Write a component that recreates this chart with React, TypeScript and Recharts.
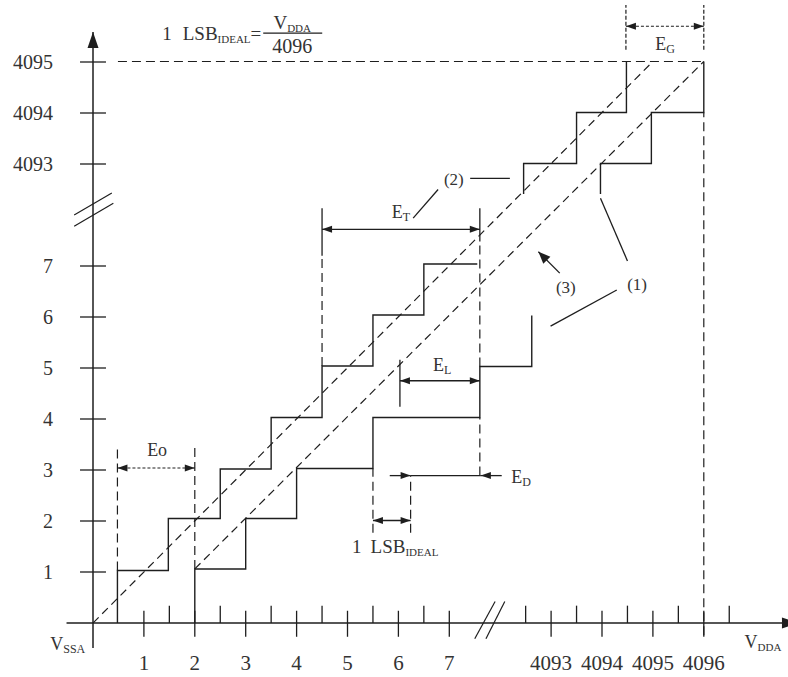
import React from 'react';
import { ComposedChart, Line, XAxis, YAxis, ReferenceLine, ReferenceDot } from 'recharts';

const FONT = 'Liberation Serif, Times New Roman, DejaVu Serif, Noto Serif, serif';
const INK = '#1e1e1e';
const TXT = '#333';

// drawing units: one unit per code step, axes broken between 7 and 4093
const xTickPos = [1, 2, 3, 4, 5, 6, 7, 9, 10, 11, 12];
const xTickLabels = ['1', '2', '3', '4', '5', '6', '7', '4093', '4094', '4095', '4096'];
const xHalfTicks = [1.5, 2.5, 3.5, 4.5, 5.5, 6.5, 8.5, 9.5, 10.5, 11.5, 12.5];
const yTickPos = [1, 2, 3, 4, 5, 6, 7, 9, 10, 11];
const yTickLabels = ['1', '2', '3', '4', '5', '6', '7', '4093', '4094', '4095'];

// (2) ideal transfer curve, step corners
const idealLowX = [0.48, 0.48, 1.48, 2.5, 3.5, 4.5, 5.5, 6.5, 7.55];
const idealLowY = [0, 1.03, 2.05, 3.02, 4.03, 5.04, 6.04, 7.04, 7.04];
const idealHighX = [8.46, 8.46, 9.5, 10.48];
const idealHighY = [8.41, 9.01, 10.01, 11.01];

// (1) actual transfer curve
const actualLowX = [2, 2, 3, 4, 5.5, 7.6, 8.62];
const actualLowY = [0, 1.06, 2.05, 3.03, 4.03, 5.03, 6.03];
const actualHighX = [9.97, 9.97, 10.97, 12];
const actualHighY = [8.41, 9.01, 10.01, 11.01];

// dashed straight lines
const idealLineX = [0, 11];
const idealLineY = [0, 11.01];
const endPointX = [2, 12];
const endPointY = [1.06, 11.01];

// guide segments [x1, y1, x2, y2]
const dashedGuides = [
  [0.48, 1.03, 0.48, 3.46],
  [2, 1.06, 2, 3.46],
  [4.5, 5.04, 4.5, 7.2],
  [7.6, 2.89, 7.6, 4.03],
  [7.6, 5.03, 7.6, 7.48],
  [5.5, 1.77, 5.5, 3.03],
  [6.24, 1.77, 6.24, 2.89],
  [12, -0.24, 12, 10.01],
  [0.49, 11.01, 12, 11.01],
];
const dottedGuides = [
  [10.47, 11.24, 10.47, 12.12],
  [12, 11.24, 12, 12.12],
];
const solidGuides = [
  [4.5, 7.2, 4.5, 8.13],
  [7.6, 7.48, 7.6, 8.13],
  [6.03, 4.24, 6.03, 5.16],
  [6.24, 2.89, 7.62, 2.89],
  [6.29, 7.94, 6.78, 8.5],
  [7.41, 8.72, 8.19, 8.72],
  [9.97, 8.33, 10.5, 7.1],
  [10.29, 6.53, 8.99, 5.82],
];
const breakMarks = [
  [-0.37, 8.0, 0.37, 8.43],
  [-0.37, 7.78, 0.4, 8.23],
  [7.5, -0.31, 7.9, 0.42],
  [7.72, -0.31, 8.09, 0.42],
];
// dimension arrows, heads on both ends
const solidDims = [
  [4.5, 7.72, 7.6, 7.72],
  [6.03, 4.75, 7.6, 4.75],
  [5.5, 2.01, 6.24, 2.01],
];
const dottedDims = [
  [0.48, 3.04, 2, 3.04],
  [10.47, 11.7, 12, 11.7],
];
// single-headed arrows, head at second point
const singleArrows = [
  [5.83, 2.89, 6.24, 2.89],
  [8.03, 2.89, 7.62, 2.89],
  [9.17, 6.86, 8.75, 7.28],
];

type SegOpts = { dash?: string; w?: number; head?: 'start' | 'end' | 'both'; hl?: number; hw?: number };

const headPts = (tx: number, ty: number, fx: number, fy: number, hl: number, hw: number) => {
  const dx = tx - fx;
  const dy = ty - fy;
  const len = Math.hypot(dx, dy) || 1;
  const ux = dx / len;
  const uy = dy / len;
  const bx = tx - ux * hl;
  const by = ty - uy * hl;
  return `${tx},${ty} ${bx - uy * hw},${by + ux * hw} ${bx + uy * hw},${by - ux * hw}`;
};

const segShape = (o: SegOpts) => (p: any) => {
  const { x1, y1, x2, y2 } = p;
  const hl = o.hl ?? 10;
  const hw = o.hw ?? 3.5;
  return (
    <g>
      <line x1={x1} y1={y1} x2={x2} y2={y2} stroke={INK} strokeWidth={o.w ?? 1.3} strokeDasharray={o.dash} />
      {(o.head === 'end' || o.head === 'both') && <polygon points={headPts(x2, y2, x1, y1, hl, hw)} fill={INK} />}
      {(o.head === 'start' || o.head === 'both') && <polygon points={headPts(x1, y1, x2, y2, hl, hw)} fill={INK} />}
    </g>
  );
};

const seg = (key: string, s: number[], o: SegOpts = {}) => (
  <ReferenceLine
    key={key}
    segment={[{ x: s[0], y: s[1] }, { x: s[2], y: s[3] }]}
    ifOverflow="visible"
    shape={segShape(o)}
  />
);

const pts = (xs: number[], ys: number[]) => xs.map((x, i) => ({ x, y: ys[i] }));

const SubText = ({ x, y, main, sub, size = 18, subSize = 12, anchor = 'middle' }: any) => (
  <text x={x} y={y} fontSize={size} textAnchor={anchor} fill={TXT} style={{ fontFamily: FONT }}>
    {main}
    {sub && <tspan fontSize={subSize} dy={3}>{sub}</tspan>}
  </text>
);

const label = (key: string, x: number, y: number, draw: (cx: number, cy: number) => React.ReactElement) => (
  <ReferenceDot key={key} x={x} y={y} r={0} ifOverflow="visible" shape={(p: any) => draw(p.cx, p.cy)} />
);

const XTick = (p: any) => (
  <text x={p.x} y={p.y + 47} textAnchor="middle" fontSize={21} fill={TXT} style={{ fontFamily: FONT }}>
    {xTickLabels[xTickPos.indexOf(p.payload.value)]}
  </text>
);

const YTick = (p: any) => (
  <text x={p.x - 40} y={p.y + 7} textAnchor="end" fontSize={20} fill={TXT} style={{ fontFamily: FONT }}>
    {yTickLabels[yTickPos.indexOf(p.payload.value)]}
  </text>
);

export default function App() {
  const stairs = [
    pts(idealLowX, idealLowY),
    pts(idealHighX, idealHighY),
    pts(actualLowX, actualLowY),
    pts(actualHighX, actualHighY),
  ];
  const diagonals = [pts(idealLineX, idealLineY), pts(endPointX, endPointY)];

  const refs = [
    seg('yax', [0, -0.49, 0, 11.59], { w: 1.5, head: 'end', hl: 16, hw: 5.5 }),
    seg('xax', [-0.52, 0, 13.85, 0], { w: 1.5, head: 'end', hl: 16, hw: 5.5 }),
    ...xTickPos.map((x, i) => seg(`xt${i}`, [x, -0.27, x, 0.24])),
    ...xHalfTicks.map((x, i) => seg(`xh${i}`, [x, 0, x, 0.34])),
    ...yTickPos.map((y, i) => seg(`yt${i}`, [-0.255, y, 0.255, y])),
    ...breakMarks.map((s, i) => seg(`br${i}`, s, { w: 1.2 })),
    ...dashedGuides.map((s, i) => seg(`dg${i}`, s, { dash: '9 5', w: 1.2 })),
    ...dottedGuides.map((s, i) => seg(`og${i}`, s, { dash: '4 2', w: 1.2 })),
    ...solidGuides.map((s, i) => seg(`sg${i}`, s)),
    ...solidDims.map((s, i) => seg(`sd${i}`, s, { head: 'both' })),
    ...dottedDims.map((s, i) => seg(`od${i}`, s, { head: 'both', dash: '3 2', w: 1.1 })),
    ...singleArrows.map((s, i) =>
      seg(`sa${i}`, s, i === 2 ? { head: 'end', hl: 12, hw: 5 } : { head: 'end' })
    ),
  ];

  const labels = [
    label('title', 1.36, 11.43, (cx, cy) => (
      <g>
        <text x={cx} y={cy} fontSize={19} fill={TXT} style={{ fontFamily: FONT }}>
          1<tspan dx={11}>LSB</tspan>
          <tspan fontSize={11} dy={3}>IDEAL</tspan>
          <tspan fontSize={19} dy={-3}>=</tspan>
        </text>
        <line x1={cx + 101} y1={cy - 7} x2={cx + 160} y2={cy - 7} stroke={INK} strokeWidth={1.3} />
        <SubText x={cx + 130} y={cy - 11} main="V" sub="DDA" size={19} subSize={11} />
        <text x={cx + 130} y={cy + 13} fontSize={20} textAnchor="middle" fill={TXT} style={{ fontFamily: FONT }}>
          4096
        </text>
      </g>
    )),
    label('eo', 1.26, 3.27, (cx, cy) => <SubText x={cx} y={cy} main="Eo" />),
    label('et', 6.05, 7.94, (cx, cy) => <SubText x={cx} y={cy} main="E" sub="T" />),
    label('el', 6.86, 4.94, (cx, cy) => <SubText x={cx} y={cy} main="E" sub="L" />),
    label('ed', 8.41, 2.75, (cx, cy) => <SubText x={cx} y={cy} main="E" sub="D" />),
    label('eg', 11.24, 11.24, (cx, cy) => <SubText x={cx} y={cy} main="E" sub="G" />),
    label('c2', 7.09, 8.59, (cx, cy) => <SubText x={cx} y={cy} main="(2)" size={17} />),
    label('c3', 9.29, 6.47, (cx, cy) => <SubText x={cx} y={cy} main="(3)" size={17} />),
    label('c1', 10.69, 6.53, (cx, cy) => <SubText x={cx} y={cy} main="(1)" size={17} />),
    label('lsb', 5.09, 1.37, (cx, cy) => (
      <text x={cx} y={cy} fontSize={19} fill={TXT} style={{ fontFamily: FONT }}>
        1<tspan dx={9}>LSB</tspan>
        <tspan fontSize={11} dy={3}>IDEAL</tspan>
      </text>
    )),
    label('vssa', -0.84, -0.53, (cx, cy) => <SubText x={cx} y={cy} main="V" sub="SSA" anchor="start" />),
    label('vdda', 12.8, -0.49, (cx, cy) => (
      <SubText x={cx} y={cy} main="V" sub="DDA" subSize={11} anchor="start" />
    )),
  ];

  return (
    <div style={{ position: 'absolute', left: 0, top: 0, background: '#fff' }}>
      <ComposedChart width={788} height={677} margin={{ top: 11, right: 33.3, bottom: 0, left: 0 }}>
        <XAxis
          type="number"
          dataKey="x"
          domain={[0, 13]}
          allowDataOverflow
          ticks={xTickPos}
          interval={0}
          axisLine={false}
          tickLine={false}
          tickSize={0}
          tickMargin={0}
          height={54}
          tick={XTick}
        />
        <YAxis
          type="number"
          domain={[0, 12]}
          allowDataOverflow
          ticks={yTickPos}
          interval={0}
          axisLine={false}
          tickLine={false}
          tickSize={0}
          tickMargin={0}
          width={93}
          tick={YTick}
        />
        {stairs.map((d, i) => (
          <Line
            key={`st${i}`}
            data={d}
            dataKey="y"
            type="stepAfter"
            stroke={INK}
            strokeWidth={1.4}
            dot={false}
            activeDot={false}
            isAnimationActive={false}
          />
        ))}
        {diagonals.map((d, i) => (
          <Line
            key={`dl${i}`}
            data={d}
            dataKey="y"
            type="linear"
            stroke={INK}
            strokeWidth={1.2}
            strokeDasharray="8 5"
            dot={false}
            activeDot={false}
            isAnimationActive={false}
          />
        ))}
        {refs}
        {labels}
      </ComposedChart>
    </div>
  );
}
